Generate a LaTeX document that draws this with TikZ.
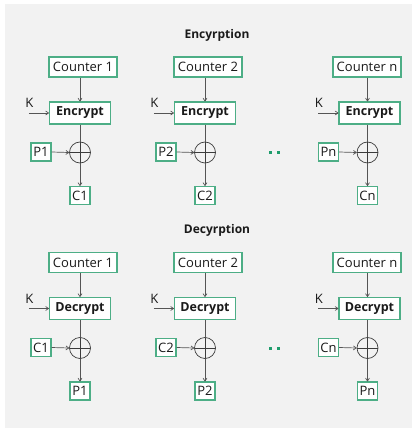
\documentclass[tikz,border=0pt]{standalone}
\usepackage{fontspec}
\setmainfont{Open Sans}
\usetikzlibrary{arrows.meta}
\definecolor{bgray}{HTML}{F2F2F2}
\definecolor{boxgreen}{HTML}{4DAE86}
\definecolor{dotgreen}{HTML}{1E9C6C}
\definecolor{wire}{HTML}{555555}
\definecolor{ink}{HTML}{1A1A1A}
\tikzset{
  x=1pt, y=-1pt,
  every node/.style={text=ink, font=\fontsize{13}{15}\selectfont},
  box/.style={draw=boxgreen, fill=white, line width=1.2pt, inner sep=0pt},
  ctrbox/.style={box, minimum width=68pt, minimum height=20pt},
  cipherbox/.style={box, minimum width=61pt, minimum height=22pt, font=\fontsize{12.5}{15}\selectfont\bfseries},
  smallbox/.style={box, minimum width=20pt, minimum height=18pt},
  xorgate/.style={circle, draw=ink!85, line width=0.7pt, minimum size=21pt, inner sep=0pt,
    path picture={\draw[ink!85, line width=0.7pt]
      (path picture bounding box.north) -- (path picture bounding box.south)
      (path picture bounding box.west) -- (path picture bounding box.east);}},
  wireline/.style={draw=wire, line width=0.7pt},
  arrow/.style={wireline, -{To[length=3.5pt, width=4.5pt]}},
  heading/.style={font=\fontsize{12}{14}\selectfont\bfseries},
}
\begin{document}
\begin{tikzpicture}
  \useasboundingbox (0,0) rectangle (413,430);
  \fill[bgray] (5,4) rectangle (412,428);

  % one block per mode: name / vertical offset / cipher op / input / output
  \foreach \s/\dy/\op/\inp/\outp/\title in
      {e/0/Encrypt/P/C/Encyrption, d/195.5/Decrypt/C/P/Decyrption} {
    \node[heading] (title\s) at (217, 35+\dy) {\title};

    % column name / wire x / counter x / cipher box x
    \foreach \c/\x/\cx/\ex in {1/80/83/80, 2/205/208/205, n/367.5/367/369.5} {
      \node[ctrbox] (cnt\s\c) at (\cx, 67+\dy) {Counter \c};
      \node[cipherbox] (op\s\c) at (\ex, 113+\dy) {\op};
      \node[xorgate] (xor\s\c) at (\x, 152.5+\dy) {};
      \node[smallbox] (in\s\c) at (\x-39, 152+\dy) {\inp\c};
      \node[smallbox] (out\s\c) at (\x, 195.5+\dy) {\outp\c};

      \coordinate (k\s\c) at ([xshift=-20pt]op\s\c.west);
      \node (klab\s\c) at ([xshift=0.5pt, yshift=10pt]k\s\c) {K};

      \draw[arrow] (k\s\c) -- (op\s\c.west);
      \draw[arrow] (cnt\s\c.south -| xor\s\c) -- (op\s\c.north -| xor\s\c);
      \draw[wireline] (op\s\c.south -| xor\s\c) -- (xor\s\c.north);
      \draw[arrow] (in\s\c.east) -- (xor\s\c.west);
      \draw[arrow] (xor\s\c.south) -- (out\s\c.north);
    }

    % ellipsis between the second and last column
    \fill[dotgreen] (268.5,151.5+\dy) rectangle ++(3,3);
    \fill[dotgreen] (277,151.5+\dy) rectangle ++(3,3);
  }
\end{tikzpicture}
\end{document}
